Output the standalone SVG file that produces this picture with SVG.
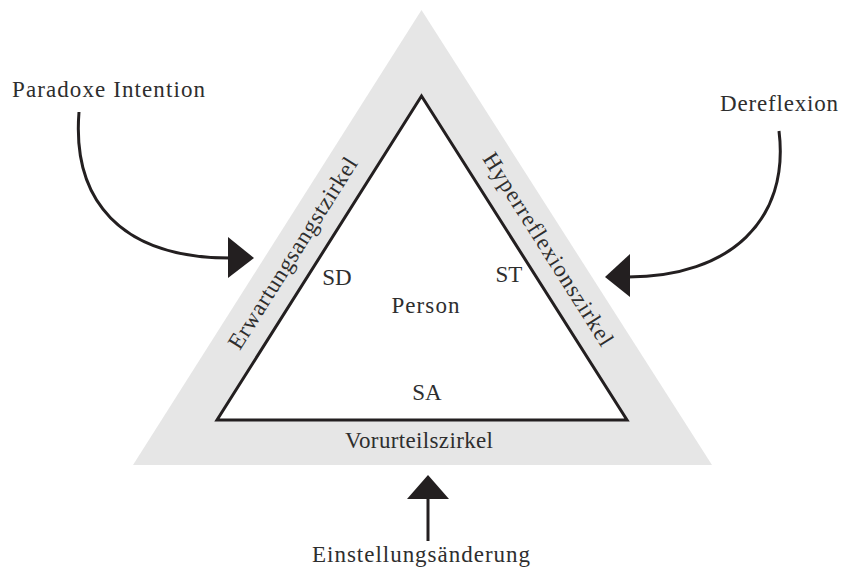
<svg xmlns="http://www.w3.org/2000/svg" width="841" height="572" viewBox="0 0 841 572">
<style>
.t{font-family:"Liberation Serif","Times New Roman",serif;fill:#2e2e2e;font-size:23px}
.c{stroke:#231f20;stroke-width:3;fill:none}
.h{fill:#231f20;stroke:none}
</style>
<rect width="841" height="572" fill="#fff"/>
<g id="outer">
<polygon points="421.5,10 133,465 712,465" fill="#e6e6e6"/>
</g>
<g id="person">
<polygon points="421.5,96 217,420 627,420" fill="#fff" stroke="#231f20" stroke-width="3" stroke-linejoin="miter"/>
<text class="t" x="426" y="313" font-size="15.5" text-anchor="middle" letter-spacing="1.1">Person</text>
<text class="t" x="337" y="285" text-anchor="middle">SD</text>
<text class="t" x="509" y="282" text-anchor="middle">ST</text>
<text class="t" x="427" y="400" text-anchor="middle">SA</text>
</g>
<g id="erwartungsangstzirkel">
<text class="t" transform="translate(294,254) rotate(-57.7)" x="0" y="6" text-anchor="middle" textLength="222" lengthAdjust="spacing">Erwartungsangstzirkel</text>
</g>
<g id="hyperreflexionszirkel">
<text class="t" transform="translate(547,250) rotate(57.7)" x="0" y="6" text-anchor="middle" textLength="224" lengthAdjust="spacing">Hyperreflexionszirkel</text>
</g>
<g id="vorurteilszirkel">
<text class="t" x="419" y="448" text-anchor="middle" textLength="148" lengthAdjust="spacing">Vorurteilszirkel</text>
</g>
<g id="paradoxe-intention">
<text class="t" x="12" y="97" textLength="193" lengthAdjust="spacing">Paradoxe Intention</text>
</g>
<g id="dereflexion">
<text class="t" x="720" y="111" textLength="118" lengthAdjust="spacing">Dereflexion</text>
</g>
<g id="einstellungsaenderung">
<text class="t" x="312" y="562" textLength="218" lengthAdjust="spacing">Einstellungsänderung</text>
</g>
<g id="connectors">
<path class="c" d="M79,112 C72,200 120,258 230,258"/>
<polygon class="h" points="228,237 254,258 228,278"/>
<path class="c" d="M779,131 C790,220 730,277 628,277"/>
<polygon class="h" points="630,254 605,277 630,297"/>
<path class="c" d="M428,541 L428,497"/>
<polygon class="h" points="428,475 449,499 407,499"/>
</g>
</svg>
